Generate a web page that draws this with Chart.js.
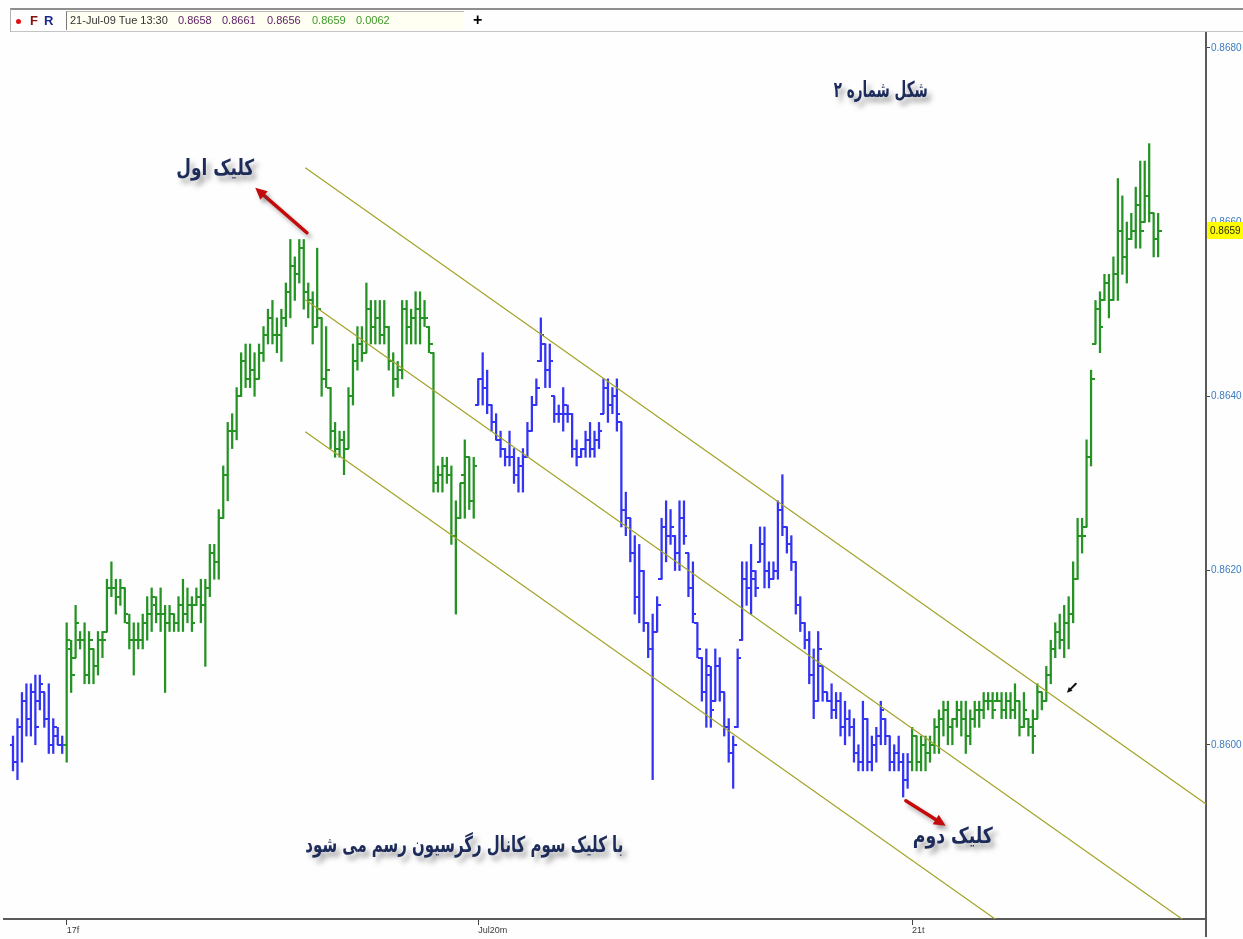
<!DOCTYPE html>
<html><head><meta charset="utf-8">
<script src="https://cdn.jsdelivr.net/npm/chart.js@4.4.1/dist/chart.umd.min.js"></script>
<style>
html,body{margin:0;padding:0;background:#fefefe;}
#wrap{position:relative;width:1243px;height:939px;overflow:hidden;background:#fefefe;}
#c{position:absolute;left:0;top:0;}
#tb{position:absolute;left:0;top:0;width:1243px;height:34px;font-family:"Liberation Sans",Arial,sans-serif;font-size:11px;}
#tb .top{position:absolute;left:10px;top:8px;width:1233px;height:2px;background:#8e8e8e;}
#tb .bot{position:absolute;left:10px;top:31px;width:1233px;height:1px;background:#c4c4c4;}
#tb .lft{position:absolute;left:10px;top:9px;width:1px;height:23px;background:#b0b0b0;}
#tb .box{position:absolute;left:66px;top:11px;width:397px;height:18px;background:#fffff2;border-left:1px solid #7a7a7a;border-top:1px solid #b8b8b8;}
#tb .dot{position:absolute;left:16px;top:19px;width:5px;height:5px;border-radius:50%;background:#e01010;}
#tb .f{position:absolute;left:30px;top:13px;font-size:13px;font-weight:bold;color:#8a1010;}
#tb .r{position:absolute;left:44px;top:13px;font-size:13px;font-weight:bold;color:#1a2a8a;}
#tb .t{position:absolute;top:14px;white-space:nowrap;line-height:13px;}
#tb .plus{position:absolute;left:473px;top:11px;font-size:16px;font-weight:bold;color:#000;}
</style></head>
<body><div id="wrap">
<canvas id="c" width="1243" height="939"></canvas>
<div id="tb">
  <div class="top"></div><div class="bot"></div><div class="lft"></div>
  <span class="dot"></span><span class="f">F</span><span class="r">R</span>
  <div class="box"></div>
  <span class="t" id="tDate" style="left:70px;color:#333"></span>
  <span class="t" id="tO" style="left:178px;color:#5e2266"></span>
  <span class="t" id="tH" style="left:222px;color:#5e2266"></span>
  <span class="t" id="tL" style="left:267px;color:#5e2266"></span>
  <span class="t" id="tC" style="left:312px;color:#3f9a2a"></span>
  <span class="t" id="tR" style="left:356px;color:#3f9a2a"></span>
  <span class="plus">+</span>
</div>
</div>
<script>
// ---------- data (15-minute OHLC bars) ----------
const open = [0.8600,0.8598,0.8602,0.8605,0.8603,0.8606,0.8605,0.8606,0.8603,0.8600,0.8601,0.8600,
0.8600,0.8611,0.8610,0.8612,0.8612,0.8608,0.8611,0.8609,0.8612,0.8613,0.8618,0.8618,
0.8617,0.8618,0.8614,0.8612,0.8612,0.8612,0.8614,0.8615,0.8616,0.8615,0.8615,0.8614,
0.8615,0.8614,0.8616,0.8615,0.8616,0.8616,0.8617,0.8616,0.8618,0.8622,0.8621,0.8626,
0.8631,0.8636,0.8636,0.8640,0.8644,0.8642,0.8643,0.8642,0.8645,0.8647,0.8649,0.8647,
0.8647,0.8649,0.8652,0.8655,0.8654,0.8657,0.8652,0.8651,0.8648,0.8649,0.8642,0.8641,
0.8636,0.8634,0.8635,0.8634,0.8640,0.8644,0.8646,0.8645,0.8650,0.8648,0.8649,0.8647,
0.8648,0.8644,0.8642,0.8643,0.8650,0.8648,0.8649,0.8650,0.8649,0.8648,0.8645,0.8630,
0.8631,0.8632,0.8631,0.8624,0.8626,0.8631,0.8633,0.8628,0.8639,0.8642,0.8641,0.8639,
0.8637,0.8635,0.8634,0.8633,0.8633,0.8631,0.8632,0.8633,0.8636,0.8639,0.8644,0.8646,
0.8643,0.8640,0.8638,0.8638,0.8638,0.8638,0.8634,0.8633,0.8634,0.8635,0.8634,0.8635,
0.8638,0.8641,0.8639,0.8640,0.8637,0.8627,0.8626,0.8622,0.8617,0.8620,0.8614,0.8611,
0.8613,0.8619,0.8625,0.8624,0.8624,0.8622,0.8626,0.8622,0.8618,0.8614,0.8610,0.8606,
0.8608,0.8605,0.8609,0.8606,0.8602,0.8599,0.8602,0.8612,0.8619,0.8618,0.8619,0.8621,
0.8623,0.8620,0.8619,0.8620,0.8627,0.8625,0.8623,0.8621,0.8616,0.8614,0.8612,0.8608,
0.8605,0.8609,0.8606,0.8605,0.8604,0.8605,0.8602,0.8603,0.8602,0.8599,0.8598,0.8603,
0.8598,0.8600,0.8601,0.8603,0.8601,0.8598,0.8599,0.8598,0.8596,0.8598,0.8601,0.8598,
0.8600,0.8599,0.8600,0.8602,0.8603,0.8604,0.8602,0.8603,0.8604,0.8603,0.8601,0.8603,
0.8604,0.8604,0.8605,0.8605,0.8605,0.8605,0.8604,0.8605,0.8604,0.8605,0.8602,0.8603,
0.8602,0.8603,0.8606,0.8605,0.8608,0.8611,0.8613,0.8612,0.8614,0.8615,0.8619,0.8624,
0.8625,0.8633,0.8646,0.8650,0.8651,0.8653,0.8651,0.8654,0.8659,0.8656,0.8658,0.8659,
0.8662,0.8660,0.8663,0.8661,0.8658];

const high = [0.8601,0.8603,0.8606,0.8607,0.8607,0.8608,0.8608,0.8606,0.8607,0.8603,0.8602,0.8601,
0.8614,0.8612,0.8616,0.8613,0.8614,0.8613,0.8611,0.8613,0.8613,0.8619,0.8621,0.8619,
0.8619,0.8618,0.8615,0.8614,0.8614,0.8615,0.8617,0.8618,0.8617,0.8618,0.8616,0.8616,
0.8615,0.8617,0.8619,0.8618,0.8617,0.8618,0.8619,0.8619,0.8623,0.8623,0.8627,0.8632,
0.8637,0.8638,0.8641,0.8645,0.8646,0.8646,0.8645,0.8646,0.8648,0.8650,0.8651,0.8649,
0.8650,0.8653,0.8658,0.8656,0.8658,0.8658,0.8653,0.8652,0.8657,0.8649,0.8648,0.8641,
0.8637,0.8636,0.8636,0.8641,0.8646,0.8648,0.8648,0.8653,0.8651,0.8651,0.8651,0.8651,
0.8648,0.8645,0.8644,0.8651,0.8651,0.8650,0.8652,0.8652,0.8651,0.8648,0.8645,0.8632,
0.8633,0.8633,0.8632,0.8628,0.8630,0.8635,0.8633,0.8633,0.8642,0.8645,0.8643,0.8639,
0.8638,0.8636,0.8634,0.8636,0.8634,0.8633,0.8634,0.8637,0.8640,0.8642,0.8649,0.8646,
0.8646,0.8640,0.8639,0.8641,0.8639,0.8638,0.8635,0.8634,0.8636,0.8637,0.8636,0.8637,
0.8642,0.8642,0.8641,0.8642,0.8637,0.8629,0.8626,0.8624,0.8623,0.8620,0.8614,0.8615,
0.8617,0.8626,0.8628,0.8627,0.8624,0.8628,0.8628,0.8622,0.8621,0.8614,0.8610,0.8611,
0.8609,0.8611,0.8610,0.8606,0.8603,0.8601,0.8611,0.8621,0.8621,0.8623,0.8620,0.8625,
0.8625,0.8621,0.8621,0.8628,0.8631,0.8625,0.8624,0.8621,0.8617,0.8614,0.8613,0.8611,
0.8613,0.8609,0.8606,0.8607,0.8606,0.8606,0.8605,0.8604,0.8603,0.8600,0.8605,0.8603,
0.8601,0.8602,0.8605,0.8603,0.8601,0.8600,0.8601,0.8599,0.8599,0.8602,0.8601,0.8601,
0.8601,0.8601,0.8603,0.8604,0.8605,0.8605,0.8603,0.8605,0.8605,0.8605,0.8604,0.8605,
0.8605,0.8606,0.8606,0.8606,0.8606,0.8606,0.8606,0.8606,0.8607,0.8605,0.8606,0.8603,
0.8604,0.8607,0.8606,0.8609,0.8612,0.8614,0.8615,0.8616,0.8617,0.8621,0.8626,0.8626,
0.8635,0.8643,0.8651,0.8652,0.8654,0.8654,0.8656,0.8665,0.8663,0.8660,0.8661,0.8664,
0.8667,0.8667,0.8669,0.8661,0.8661];

const low = [0.8597,0.8596,0.8598,0.8601,0.8601,0.8600,0.8604,0.8602,0.8599,0.8599,0.8600,0.8599,
0.8598,0.8606,0.8610,0.8611,0.8607,0.8607,0.8607,0.8608,0.8610,0.8613,0.8617,0.8615,
0.8616,0.8614,0.8611,0.8608,0.8611,0.8611,0.8612,0.8613,0.8614,0.8613,0.8606,0.8613,
0.8613,0.8613,0.8613,0.8614,0.8613,0.8616,0.8614,0.8609,0.8617,0.8619,0.8619,0.8626,
0.8628,0.8634,0.8635,0.8640,0.8641,0.8641,0.8640,0.8642,0.8644,0.8646,0.8646,0.8645,
0.8644,0.8648,0.8649,0.8651,0.8653,0.8650,0.8649,0.8646,0.8648,0.8640,0.8641,0.8634,
0.8633,0.8633,0.8631,0.8634,0.8639,0.8643,0.8644,0.8645,0.8646,0.8646,0.8646,0.8646,
0.8643,0.8640,0.8641,0.8642,0.8646,0.8646,0.8646,0.8646,0.8648,0.8645,0.8629,0.8629,
0.8629,0.8630,0.8623,0.8615,0.8626,0.8626,0.8627,0.8626,0.8639,0.8639,0.8638,0.8636,
0.8635,0.8633,0.8632,0.8632,0.8630,0.8629,0.8629,0.8633,0.8636,0.8639,0.8644,0.8641,
0.8641,0.8637,0.8637,0.8636,0.8637,0.8633,0.8632,0.8633,0.8633,0.8633,0.8633,0.8634,
0.8638,0.8637,0.8638,0.8636,0.8625,0.8624,0.8621,0.8615,0.8614,0.8613,0.8610,0.8596,
0.8613,0.8619,0.8621,0.8623,0.8620,0.8620,0.8623,0.8617,0.8614,0.8610,0.8605,0.8602,
0.8602,0.8605,0.8605,0.8601,0.8598,0.8595,0.8602,0.8612,0.8616,0.8615,0.8617,0.8621,
0.8618,0.8618,0.8619,0.8619,0.8624,0.8622,0.8620,0.8615,0.8613,0.8611,0.8607,0.8603,
0.8605,0.8605,0.8605,0.8603,0.8603,0.8601,0.8600,0.8601,0.8598,0.8597,0.8597,0.8597,
0.8597,0.8598,0.8600,0.8600,0.8597,0.8597,0.8597,0.8594,0.8595,0.8597,0.8597,0.8597,
0.8597,0.8598,0.8599,0.8599,0.8601,0.8600,0.8600,0.8602,0.8601,0.8599,0.8600,0.8602,
0.8602,0.8603,0.8604,0.8603,0.8605,0.8603,0.8603,0.8603,0.8603,0.8601,0.8602,0.8601,
0.8599,0.8603,0.8604,0.8605,0.8607,0.8610,0.8611,0.8610,0.8611,0.8614,0.8619,0.8622,
0.8625,0.8632,0.8646,0.8645,0.8651,0.8649,0.8651,0.8651,0.8654,0.8653,0.8658,0.8657,
0.8657,0.8660,0.8660,0.8656,0.8656];

const close = [0.8598,0.8602,0.8605,0.8603,0.8606,0.8602,0.8607,0.8603,0.8600,0.8602,0.8600,0.8600,
0.8612,0.8608,0.8614,0.8612,0.8608,0.8612,0.8609,0.8612,0.8612,0.8618,0.8618,0.8617,
0.8618,0.8615,0.8612,0.8612,0.8612,0.8614,0.8615,0.8617,0.8615,0.8615,0.8614,0.8615,
0.8614,0.8616,0.8615,0.8616,0.8614,0.8617,0.8616,0.8618,0.8622,0.8621,0.8626,0.8631,
0.8636,0.8636,0.8640,0.8644,0.8642,0.8643,0.8642,0.8645,0.8647,0.8649,0.8647,0.8647,
0.8649,0.8652,0.8655,0.8654,0.8657,0.8652,0.8651,0.8648,0.8650,0.8642,0.8643,0.8636,
0.8634,0.8635,0.8634,0.8640,0.8644,0.8646,0.8645,0.8650,0.8648,0.8649,0.8647,0.8648,
0.8644,0.8642,0.8643,0.8650,0.8648,0.8649,0.8650,0.8649,0.8649,0.8646,0.8630,0.8631,
0.8632,0.8631,0.8624,0.8626,0.8630,0.8633,0.8628,0.8632,0.8642,0.8641,0.8639,0.8637,
0.8635,0.8634,0.8633,0.8633,0.8631,0.8632,0.8633,0.8636,0.8639,0.8641,0.8647,0.8643,
0.8644,0.8638,0.8638,0.8639,0.8638,0.8634,0.8633,0.8634,0.8635,0.8634,0.8635,0.8636,
0.8641,0.8639,0.8640,0.8638,0.8627,0.8626,0.8622,0.8617,0.8620,0.8614,0.8611,0.8613,
0.8616,0.8625,0.8624,0.8625,0.8622,0.8626,0.8624,0.8618,0.8615,0.8611,0.8606,0.8609,
0.8604,0.8609,0.8606,0.8602,0.8599,0.8600,0.8610,0.8619,0.8618,0.8620,0.8618,0.8623,
0.8620,0.8619,0.8620,0.8627,0.8625,0.8623,0.8621,0.8616,0.8614,0.8612,0.8608,0.8605,
0.8611,0.8606,0.8605,0.8604,0.8605,0.8602,0.8603,0.8602,0.8599,0.8598,0.8603,0.8598,
0.8600,0.8601,0.8604,0.8601,0.8598,0.8599,0.8598,0.8596,0.8598,0.8601,0.8598,0.8600,
0.8599,0.8600,0.8602,0.8603,0.8604,0.8602,0.8603,0.8604,0.8603,0.8601,0.8603,0.8604,
0.8604,0.8605,0.8605,0.8604,0.8605,0.8604,0.8605,0.8604,0.8605,0.8602,0.8604,0.8602,
0.8601,0.8606,0.8605,0.8608,0.8611,0.8613,0.8612,0.8614,0.8615,0.8619,0.8624,0.8624,
0.8633,0.8642,0.8650,0.8648,0.8653,0.8651,0.8654,0.8659,0.8656,0.8658,0.8659,0.8662,
0.8659,0.8663,0.8661,0.8658,0.8659];

// sessions (days): label shown on the time axis and number of 15-min bars in each
const dayLabels = ['', '17f', 'Jul20m', '21t'];
const dayBarCounts = [12, 92, 97, 56];
const dayColors = ['#3333f4', '#249324', '#3333f4', '#249324'];

// price axis tick labels
const yTickValues = [0.8600, 0.8620, 0.8640, 0.8660, 0.8680];

// regression channel (from first click, extended to the right edge)
const channelX = [65.34, 266.7];
const channelUpper = [0.866623, 0.859320];
const channelMiddle = [0.865108, 0.857805];
const channelLower = [0.863593, 0.856290];

// header info
const headerDate = '21-Jul-09 Tue 13:30';
const headerRange = '0.0062';

// annotations (data coordinates: bar index, price)
const notes = [
  {text: 'شکل شماره ۲', x: 194.0, y: 0.867506, w: 94},
  {text: 'کلیک اول', x: 45.2, y: 0.866600, w: 78},
  {text: 'کلیک دوم', x: 210.1, y: 0.858933, w: 80},
  {text: 'با کلیک سوم کانال رگرسیون رسم می شود', x: 100.9, y: 0.858829, w: 318}
];
const arrows = [
  {x1: 65.7, y1: 0.865877, x2: 54.15, y2: 0.866393, color: '#c40a0a', w: 3.5, head: 13},
  {x1: 199.6, y1: 0.859357, x2: 208.5, y2: 0.859070, color: '#c40a0a', w: 3.5, head: 13},
  {x1: 237.6, y1: 0.860700, x2: 235.6, y2: 0.860597, color: '#111', w: 2, head: 6, noShadow: true}
];

// ---------- derived ----------
const N = open.length;
const barIndex = open.map((_, i) => i);
const dayStarts = [];
const barColor = [];
{ let s = 0; dayBarCounts.forEach((n, d) => { dayStarts.push(s); for (let k = 0; k < n; k++) barColor.push(dayColors[d]); s += n; }); }

document.getElementById('tDate').textContent = headerDate;
document.getElementById('tO').textContent = open[N-1].toFixed(4);
document.getElementById('tH').textContent = high[N-1].toFixed(4);
document.getElementById('tL').textContent = low[N-1].toFixed(4);
document.getElementById('tC').textContent = close[N-1].toFixed(4);
document.getElementById('tR').textContent = headerRange;

function tickImg(color, side) {
  const c = document.createElement('canvas');
  c.width = 7; c.height = 2;
  const g = c.getContext('2d');
  g.fillStyle = color;
  if (side === 'L') g.fillRect(0, 0, 4, 2); else g.fillRect(3, 0, 4, 2);
  return c;
}
const imgCache = {};
function getImg(color, side) { const k = color + side; if (!imgCache[k]) imgCache[k] = tickImg(color, side); return imgCache[k]; }

const extras = {
  id: 'extras',
  afterDraw(chart) {
    const ctx = chart.ctx, xs = chart.scales.x, ys = chart.scales.y, a = chart.chartArea;
    ctx.save();
    ctx.strokeStyle = '#5a5a5a'; ctx.lineWidth = 2;
    ctx.beginPath(); ctx.moveTo(a.right, a.bottom); ctx.lineTo(a.right, 937); ctx.stroke();
    ctx.beginPath(); ctx.moveTo(3, a.bottom); ctx.lineTo(a.left, a.bottom); ctx.stroke();
    const cy = ys.getPixelForValue(close[N-1]);
    ctx.fillStyle = '#ffff00';
    ctx.fillRect(a.right + 1, Math.round(cy) - 9, 37, 17);
    ctx.fillStyle = '#2c2c00';
    ctx.font = '10px "Liberation Sans", Arial, sans-serif';
    ctx.textBaseline = 'middle'; ctx.textAlign = 'left';
    ctx.fillText(close[N-1].toFixed(4), a.right + 4, Math.round(cy));
    arrows.forEach(ar => {
      const x1 = xs.getPixelForValue(ar.x1), y1 = ys.getPixelForValue(ar.y1);
      const x2 = xs.getPixelForValue(ar.x2), y2 = ys.getPixelForValue(ar.y2);
      const ang = Math.atan2(y2 - y1, x2 - x1);
      ctx.save();
      if (!ar.noShadow) { ctx.shadowColor = 'rgba(70,70,70,0.45)'; ctx.shadowBlur = 4; ctx.shadowOffsetX = 3; ctx.shadowOffsetY = 4; }
      ctx.strokeStyle = ar.color; ctx.fillStyle = ar.color; ctx.lineWidth = ar.w; ctx.lineCap = 'round';
      const bx = x2 - Math.cos(ang) * ar.head * 0.8, by = y2 - Math.sin(ang) * ar.head * 0.8;
      ctx.beginPath(); ctx.moveTo(x1, y1); ctx.lineTo(bx, by); ctx.stroke();
      ctx.beginPath();
      ctx.moveTo(x2, y2);
      ctx.lineTo(x2 - Math.cos(ang - 0.45) * ar.head, y2 - Math.sin(ang - 0.45) * ar.head);
      ctx.lineTo(x2 - Math.cos(ang + 0.45) * ar.head, y2 - Math.sin(ang + 0.45) * ar.head);
      ctx.closePath(); ctx.fill();
      ctx.restore();
    });
    notes.forEach(n => {
      const x = xs.getPixelForValue(n.x), y = ys.getPixelForValue(n.y);
      ctx.save();
      ctx.font = 'bold 22px "DejaVu Sans", sans-serif';
      ctx.textAlign = 'center'; ctx.textBaseline = 'middle';
      const mw = ctx.measureText(n.text).width;
      ctx.translate(x, y);
      ctx.scale(n.w / mw, 1);
      ctx.shadowColor = 'rgba(80,80,80,0.5)'; ctx.shadowBlur = 5; ctx.shadowOffsetX = 4; ctx.shadowOffsetY = 5;
      ctx.fillStyle = '#1c2b5a';
      ctx.fillText(n.text, 0, 0);
      ctx.restore();
    });
    ctx.restore();
  }
};

const tickFont = {family: '"Liberation Sans", Arial, sans-serif', size: 10};

new Chart(document.getElementById('c'), {
  type: 'bar',
  data: {
    datasets: [
      {type: 'line', label: 'upper', data: channelX.map((x, i) => ({x, y: channelUpper[i]})), borderColor: '#a3a328', borderWidth: 1.2, pointRadius: 0, order: 0},
      {type: 'line', label: 'middle', data: channelX.map((x, i) => ({x, y: channelMiddle[i]})), borderColor: '#a3a328', borderWidth: 1.2, pointRadius: 0, order: 0},
      {type: 'line', label: 'lower', data: channelX.map((x, i) => ({x, y: channelLower[i]})), borderColor: '#a3a328', borderWidth: 1.2, pointRadius: 0, order: 0},
      {type: 'scatter', label: 'open', data: barIndex.map(i => ({x: i, y: open[i]})),
        pointStyle: (c) => getImg(barColor[c.dataIndex] || '#000', 'L'), pointRadius: 3, order: 1},
      {type: 'scatter', label: 'close', data: barIndex.map(i => ({x: i, y: close[i]})),
        pointStyle: (c) => getImg(barColor[c.dataIndex] || '#000', 'R'), pointRadius: 3, order: 1},
      {type: 'bar', label: 'range', data: barIndex.map(i => ({x: i, y: [low[i], high[i]]})),
        backgroundColor: barColor, borderWidth: 0, barThickness: 1.6, grouped: false, order: 2}
    ]
  },
  options: {
    responsive: false, animation: false, events: [],
    layout: {padding: {left: 10, top: 33, right: 0, bottom: 0}},
    plugins: {legend: {display: false}, tooltip: {enabled: false}},
    scales: {
      x: {
        type: 'linear', min: -0.67, max: 266.7, offset: false,
        afterBuildTicks: (s) => { s.ticks = dayStarts.filter((_, d) => dayLabels[d]).map(v => ({value: v})); },
        afterFit: (s) => { s.height = 20; },
        ticks: {autoSkip: false, maxRotation: 0, align: 'start', padding: 0, color: '#3a3a3a',
          font: {family: tickFont.family, size: 9},
          callback: (v) => dayLabels[dayStarts.indexOf(v)] || ''},
        grid: {offset: false, drawOnChartArea: false, drawTicks: true, tickLength: 6, color: '#444', lineWidth: 1},
        border: {display: true, color: '#5a5a5a', width: 2}
      },
      y: {
        type: 'linear', position: 'right', min: 0.8580, max: 0.86817,
        afterBuildTicks: (s) => { s.ticks = yTickValues.map(v => ({value: v})); },
        afterFit: (s) => { s.width = 37; },
        ticks: {color: '#3b7cc0', font: tickFont, padding: 1, callback: (v) => v.toFixed(4)},
        grid: {offset: false, drawOnChartArea: false, drawTicks: true, tickLength: 4, color: '#444'},
        border: {display: true, color: '#5a5a5a', width: 2}
      }
    }
  },
  plugins: [extras]
});
</script>
</body></html>
